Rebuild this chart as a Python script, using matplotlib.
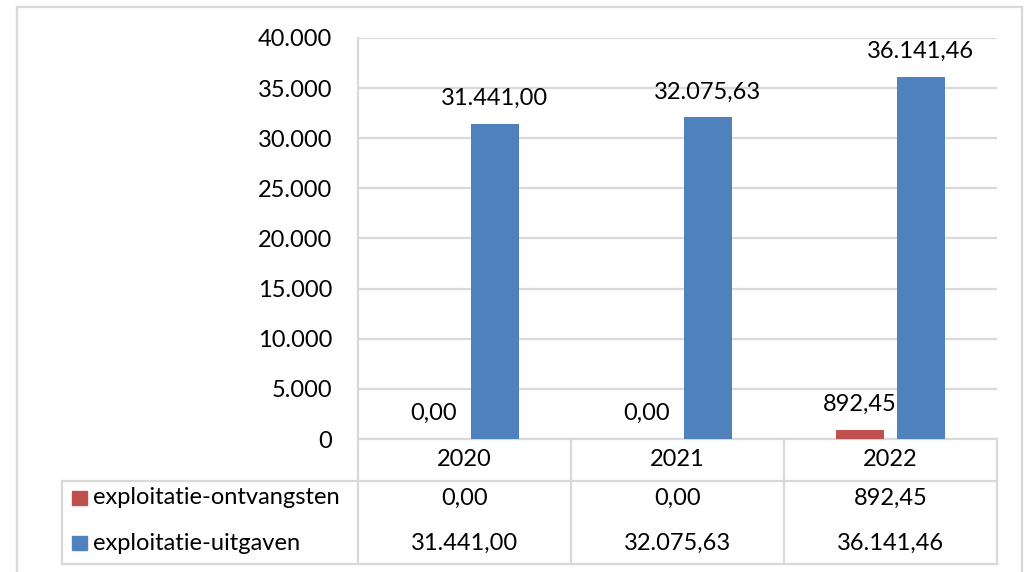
import matplotlib
matplotlib.use("Agg")
import matplotlib.pyplot as plt
import numpy as np

years = ["2020", "2021", "2022"]
series_names = ["exploitatie-ontvangsten", "exploitatie-uitgaven"]
ontvangsten = [0.00, 0.00, 892.45]
uitgaven = [31441.00, 32075.63, 36141.46]
yticks = [0, 5000, 10000, 15000, 20000, 25000, 30000, 35000, 40000]

colors = ["#C0504D", "#4F81BD"]
grid_c = "#D9D9D9"

plt.rcParams['font.family'] = ['Lato', 'DejaVu Sans']
FS = 17


def nl(v, dec=2):
    s = f"{v:,.{dec}f}"
    return s.replace(",", "X").replace(".", ",").replace("X", ".")


W, H = 1029, 572
fig = plt.figure(figsize=(W / 100, H / 100), dpi=100)
fig.patch.set_facecolor("white")

# outer frame
fig.add_artist(plt.Line2D([17 / W, 17 / W], [0, 1 - 7 / H], color=grid_c, lw=1.6))
fig.add_artist(plt.Line2D([17 / W, 1022 / W], [1 - 7 / H, 1 - 7 / H], color=grid_c, lw=1.6))
fig.add_artist(plt.Line2D([1022 / W, 1022 / W], [0, 1 - 7 / H], color=grid_c, lw=1.6))

L, R, T, B = 358, 997, 38, 439
ax = fig.add_axes([L / W, 1 - B / H, (R - L) / W, (B - T) / H])

x = np.arange(len(years))
bw = 0.223
off = 0.143
data = [ontvangsten, uitgaven]
for i, (vals, c) in enumerate(zip(data, colors)):
    xs = x + (-off if i == 0 else off)
    ax.bar(xs, vals, width=bw, color=c, zorder=3)
    for xi, v in zip(xs, vals):
        ax.annotate(nl(v), (xi, v), xytext=(0, 13.5), textcoords="offset points",
                    ha="center", va="baseline", fontsize=FS, color="black")

ax.set_xlim(-0.5, 2.5)
ax.set_ylim(0, 40000)
ax.set_yticks(yticks)
ax.set_yticklabels([nl(t, 0) for t in yticks], fontsize=FS)
ax.tick_params(axis="y", length=0, pad=18.5)
ax.set_xticks([])
ax.yaxis.grid(True, color=grid_c, lw=1.6, zorder=0)
for s in ["top", "right", "bottom", "left"]:
    ax.spines[s].set_visible(False)

ph = B - T  # axes height in px
pw = R - L


def fy(py):
    return (B - py) / ph


def fx(px):
    return (px - L) / pw


trans = ax.transAxes
lk = dict(color=grid_c, lw=1.6, clip_on=False, transform=trans, zorder=1)
# left axis line extending into table
ax.plot([0, 0], [1, fy(564)], **lk)
# horizontal table lines
ax.plot([0, 1], [0, 0], **lk)
ax.plot([fx(62), 1], [fy(481), fy(481)], **lk)
ax.plot([fx(62), 1], [fy(564), fy(564)], **lk)
# legend box left
ax.plot([fx(62), fx(62)], [fy(481), fy(564)], **lk)
# column separators
for k in range(1, len(years) + 1):
    xc = k / len(years)
    ax.plot([xc, xc], [0, fy(564)], **lk)

# table text
blend = matplotlib.transforms.blended_transform_factory(ax.transData, ax.transAxes)
for xi, yr in zip(x, years):
    ax.text(xi, fy(460), yr, ha="center", va="center", fontsize=FS, transform=blend)
row_y = [fy(498), fy(543)]
for vals, ry in zip(data, row_y):
    for xi, v in zip(x, vals):
        ax.text(xi, ry, nl(v), ha="center", va="center", fontsize=FS, transform=blend)

# legend keys in table
for name, c, ry in zip(series_names, colors, row_y):
    ax.add_patch(plt.Rectangle((fx(72), ry - 7 / ph), 15 / pw, 14 / ph, color=c,
                               transform=trans, clip_on=False))
    ax.text(fx(93), ry, name, ha="left", va="center", fontsize=FS, transform=trans)

fig.savefig("out.png", dpi=100, facecolor="white")
